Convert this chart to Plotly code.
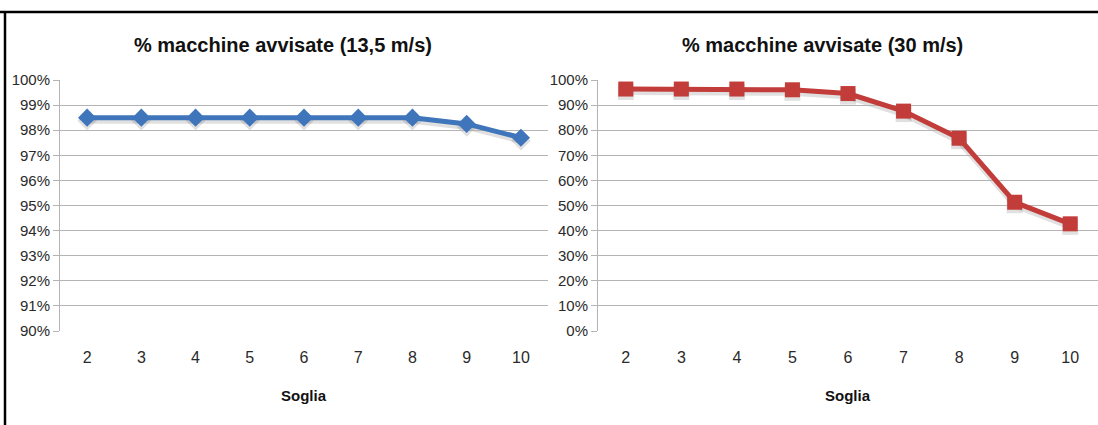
import plotly.graph_objects as go

# Soglia values (x categories)
soglia = ["2", "3", "4", "5", "6", "7", "8", "9", "10"]

# % of vehicles warned at 13.5 m/s
avvisate_13_5 = [98.5, 98.5, 98.5, 98.5, 98.5, 98.5, 98.5, 98.25, 97.7]
# % of vehicles warned at 30 m/s
avvisate_30 = [96.4, 96.4, 96.4, 96.1, 94.6, 87.6, 76.8, 51.3, 42.7]

left_ticks = [90, 91, 92, 93, 94, 95, 96, 97, 98, 99, 100]
right_ticks = [0, 10, 20, 30, 40, 50, 60, 70, 80, 90, 100]

W, H = 1098, 425
FONT = "Liberation Sans Narrow, Arial Narrow, Liberation Sans, Arial, sans-serif"
BLUE = "#3f76bb"
RED = "#c23c3a"
SHADOW = "rgba(0,0,0,0.12)"
GRID = "#b4b4b4"
TXT = "#2a2a2a"

ydom = [1 - 331 / H, 1 - 80 / H]
xdom1 = [60 / W, 548 / W]
xdom2 = [598 / W, 1.0]
# drop-shadow axes: same scales, nudged a few pixels down
dy = 3 / H
ydom_sh = [ydom[0] - dy, ydom[1] - dy]

fig = go.Figure()

# soft shadows, drawn on hidden axes that sit beneath the visible charts
fig.add_trace(go.Scatter(
    x=soglia, y=avvisate_13_5, mode="lines+markers",
    line=dict(color=SHADOW, width=6),
    marker=dict(symbol="diamond", size=15, color=SHADOW),
    xaxis="x", yaxis="y", showlegend=False, hoverinfo="skip",
))
fig.add_trace(go.Scatter(
    x=soglia, y=avvisate_30, mode="lines+markers",
    line=dict(color=SHADOW, width=6),
    marker=dict(symbol="square", size=16, color=SHADOW),
    xaxis="x2", yaxis="y2", showlegend=False, hoverinfo="skip",
))

fig.add_trace(go.Scatter(
    x=soglia, y=avvisate_13_5, mode="lines+markers",
    line=dict(color=BLUE, width=5),
    marker=dict(symbol="diamond", size=14, color=BLUE),
    xaxis="x3", yaxis="y3", showlegend=False,
))
fig.add_trace(go.Scatter(
    x=soglia, y=avvisate_30, mode="lines+markers",
    line=dict(color=RED, width=5),
    marker=dict(symbol="square", size=15, color=RED),
    xaxis="x4", yaxis="y4", showlegend=False,
))

common_x = dict(
    type="category", showgrid=False, showline=False, zeroline=False,
    ticks="", tickfont=dict(family=FONT, size=16, color=TXT),
    ticklabelstandoff=15, automargin=False,
)
common_y = dict(
    showgrid=True, gridcolor=GRID, gridwidth=1, zeroline=False,
    showline=True, linecolor=GRID, linewidth=1,
    ticks="outside", ticklen=6, tickcolor=GRID,
    tickfont=dict(family=FONT, size=15, color=TXT),
    automargin=False,
)
hidden = dict(visible=False, automargin=False)

fig.update_layout(
    width=W, height=H,
    margin=dict(l=0, r=0, t=0, b=0, autoexpand=False),
    paper_bgcolor="white", plot_bgcolor="rgba(0,0,0,0)",
    xaxis=dict(domain=xdom1, anchor="y", range=[-0.5, 8.5],
               type="category", **hidden),
    yaxis=dict(domain=ydom_sh, anchor="x", range=[90, 100], **hidden),
    xaxis2=dict(domain=xdom2, anchor="y2", range=[-0.5, 8.5],
                type="category", **hidden),
    yaxis2=dict(domain=ydom_sh, anchor="x2", range=[0, 100], **hidden),
    xaxis3=dict(domain=xdom1, anchor="y3", range=[-0.5, 8.5], **common_x),
    yaxis3=dict(domain=ydom, anchor="x3", range=[90, 100],
                tickvals=left_ticks, ticktext=[f"{v}%" for v in left_ticks],
                **common_y),
    xaxis4=dict(domain=xdom2, anchor="y4", range=[-0.5, 8.5], **common_x),
    yaxis4=dict(domain=ydom, anchor="x4", range=[0, 100],
                tickvals=right_ticks, ticktext=[f"{v}%" for v in right_ticks],
                **common_y),
)

titles = [
    ("% macchine avvisate (13,5 m/s)", 283),
    ("% macchine avvisate (30 m/s)", 822),
]
for text, cx in titles:
    fig.add_annotation(
        text=f"<b>{text}</b>", x=cx / W, y=1 - 45 / H, xref="paper", yref="paper",
        showarrow=False, xanchor="center", yanchor="middle",
        font=dict(family=FONT, size=20, color="#111111"),
    )
for cx in (304, 848):
    fig.add_annotation(
        text="<b>Soglia</b>", x=cx / W, y=1 - 395 / H, xref="paper", yref="paper",
        showarrow=False, xanchor="center", yanchor="middle",
        font=dict(family=FONT, size=15, color="#111111"),
    )

# Outer frame: top and left edges
fig.add_shape(type="line", xref="paper", yref="paper",
              x0=0, x1=1, y0=1 - 12 / H, y1=1 - 12 / H,
              line=dict(color="black", width=2.5))
fig.add_shape(type="line", xref="paper", yref="paper",
              x0=5 / W, x1=5 / W, y0=0, y1=1 - 12 / H,
              line=dict(color="black", width=2.5))

fig.write_html("out.html")
